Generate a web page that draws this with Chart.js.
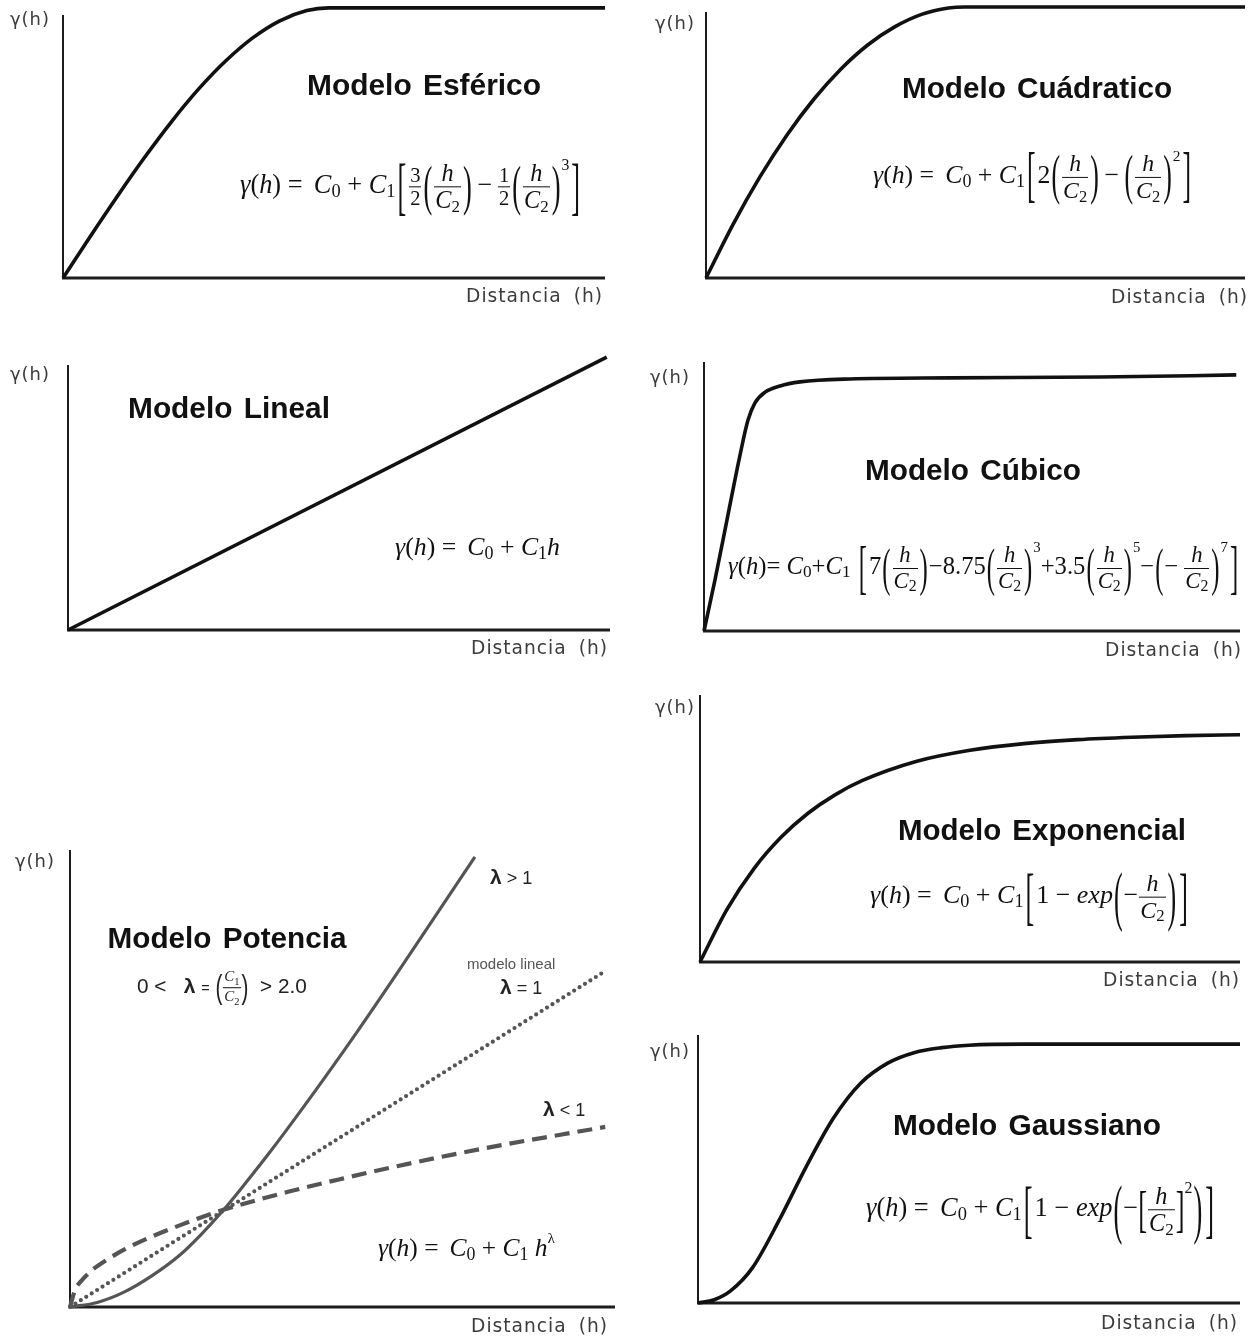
<!DOCTYPE html>
<html lang="es">
<head>
<meta charset="utf-8">
<title>Modelos de semivariograma</title>
<script src="https://cdn.jsdelivr.net/npm/chart.js@4.4.1/dist/chart.umd.min.js"></script>
<style>
  html,body{margin:0;padding:0;background:#fff}
  body{width:1258px;height:1337px;position:relative;overflow:hidden}
  canvas{position:absolute}
  .abs{position:absolute;white-space:nowrap;line-height:1}
  .ttl{font-family:"Liberation Sans",Arial,sans-serif;font-weight:bold;font-size:29px;color:#111;transform:translate(-50%,-50%);word-spacing:3px}
  .yl,.xl{font-family:"DejaVu Sans",Verdana,sans-serif;font-size:18px;color:#3c3c3c;letter-spacing:1px;transform:translateY(-50%)}
  .xl{word-spacing:5px}
  .fm{font-family:"Liberation Serif","DejaVu Serif",serif;font-size:26px;color:#111;transform:translateY(-50%);display:inline-block;line-height:1.2}
  .fm sub{font-size:.7em;vertical-align:-.22em;line-height:0}
  .fm sup{font-size:.6em;vertical-align:1.45em;line-height:0}
  .fm sup.lo{vertical-align:.85em}
  .fr{display:inline-block;vertical-align:middle;text-align:center;font-size:.92em;margin:0 1px}
  .fr>span{display:block;line-height:1.08;padding:0 1px}
  .fr>span:first-child{border-bottom:1.5px solid #111}
  .fr.sm{font-size:.78em}
  .bp{display:inline-block;transform:scaleY(2.1);vertical-align:middle;margin:0 1px}
  .bp.big{transform:scaleY(2.5)}
  .bk{display:inline-block;transform:scaleY(2.4);vertical-align:middle;margin:0 2px}
  .sbk{display:inline-block;transform:scaleY(1.9);vertical-align:middle}
  .th{display:inline-block;width:.18em}
  .lab{font-family:"Liberation Sans",Arial,sans-serif;font-size:18px;color:#222;transform:translateY(-50%)}
  .lab b{font-size:21px}
  .small{font-family:"Liberation Sans",Arial,sans-serif;font-size:15px;color:#555;transform:translateY(-50%)}
  .fr.tiny{font-family:"Liberation Serif",serif;font-size:.72em}
  .fr.tiny>span:first-child{border-bottom-width:1px}
  .bp2{display:inline-block;transform:scaleY(1.6);vertical-align:middle;font-weight:normal}
</style>
</head>
<body>
<script>
// ---- curve data: h (distancia, % of axis length) and γ(h) (% of axis height) ----
const H_ESF = [0, 5, 10, 15, 20, 25, 30, 35, 40, 45, 49, 60, 70, 80, 90, 100];
const G_ESF = [0, 15.7, 31.0, 45.7, 59.4, 71.8, 82.5, 91.3, 97.8, 101.7, 102.7, 102.7, 102.7, 102.7, 102.7, 102.7];

const H_CUA = [0, 5, 10, 15, 20, 25, 30, 35, 40, 45, 48, 60, 70, 80, 90, 100];
const G_CUA = [0, 20.1, 38.0, 53.7, 67.2, 78.5, 87.6, 94.4, 99.1, 101.5, 101.9, 101.9, 101.9, 101.9, 101.9, 101.9];

const H_LIN = [0, 99.4];
const G_LIN = [0, 103];

const H_CUB = [0, 2.05, 4.29, 6.72, 8.21, 9.51, 11.4, 14.2, 17.9, 27.2, 45.9, 73.9, 99.3];
const G_CUB = [0, 19.0, 41.3, 65.4, 78.4, 84.8, 88.8, 91.1, 92.6, 93.7, 94.1, 94.4, 95.2];

const H_POT_GT = [0, 5, 10, 15, 20, 24, 28, 32, 37, 45, 51.4, 60, 67, 74.3];
const G_POT_GT = [0, 1.0, 3.3, 6.8, 11.2, 15.8, 21, 26.8, 34.4, 47.3, 58, 73, 85.5, 98.5];
const H_POT_EQ = [0, 98.2];
const G_POT_EQ = [0, 73.5];
const H_POT_LT = [0, 1, 2, 4, 7, 10, 15, 20, 28, 40, 50, 60, 70, 80, 90, 98.2];
const G_POT_LT = [0, 4.0, 5.6, 8.0, 10.5, 12.6, 15.4, 17.8, 21.2, 25.2, 28.1, 30.8, 33.3, 35.6, 37.7, 39.4];

const H_EXP = [0, 5, 10, 15, 20, 25, 30, 40, 50, 60, 70, 80, 90, 100];
const G_EXP = [0, 19.7, 35.0, 46.7, 55.7, 62.6, 67.9, 75.1, 79.3, 81.8, 83.3, 84.2, 84.8, 85.1];

const H_GAU = [0, 3, 6, 10, 15, 20, 25, 30, 35, 40, 45, 50, 60, 80, 100];
const G_GAU = [0, 1.2, 4.5, 13, 31, 51, 69, 82, 89.5, 93.5, 95.3, 96.2, 96.6, 96.6, 96.6];

// ---- axes: vertical γ(h) axis and horizontal distance axis along the plot area ----
const axesPlugin = {
  id: 'ejes',
  beforeDatasetsDraw(chart) {
    const { ctx, chartArea: { left, top, right, bottom } } = chart;
    ctx.save();
    ctx.strokeStyle = '#1c1c1c';
    ctx.lineCap = 'butt';
    ctx.lineWidth = 2;
    ctx.beginPath(); ctx.moveTo(left, top); ctx.lineTo(left, bottom + 1); ctx.stroke();
    ctx.lineWidth = 3;
    ctx.beginPath(); ctx.moveTo(left - 1, bottom); ctx.lineTo(right, bottom); ctx.stroke();
    ctx.restore();
  }
};

const BLACK = '#111';
const GREY = '#555';

const panels = [
  { x0: 63,  y0: 278,  x1: 605,  yTop: 15,   sets: [{ h: H_ESF, g: G_ESF, color: BLACK, width: 3.6 }] },
  { x0: 706, y0: 278,  x1: 1245, yTop: 12,   sets: [{ h: H_CUA, g: G_CUA, color: BLACK, width: 3.6 }] },
  { x0: 68,  y0: 630,  x1: 610,  yTop: 365,  sets: [{ h: H_LIN, g: G_LIN, color: BLACK, width: 3.6 }] },
  { x0: 704, y0: 631,  x1: 1240, yTop: 362,  sets: [{ h: H_CUB, g: G_CUB, color: BLACK, width: 3.6 }] },
  { x0: 70,  y0: 1307, x1: 615,  yTop: 850,  sets: [
      { h: H_POT_GT, g: G_POT_GT, color: GREY, width: 3.2 },
      { h: H_POT_EQ, g: G_POT_EQ, color: GREY, width: 4.2, dash: [0, 6.4], cap: 'round' },
      { h: H_POT_LT, g: G_POT_LT, color: GREY, width: 4.2, dash: [15, 8] }
  ] },
  { x0: 700, y0: 962,  x1: 1240, yTop: 695,  sets: [{ h: H_EXP, g: G_EXP, color: BLACK, width: 3.6 }] },
  { x0: 698, y0: 1303, x1: 1240, yTop: 1035, sets: [{ h: H_GAU, g: G_GAU, color: BLACK, width: 3.6 }] }
];

function drawPanel(p) {
  const PAD = 24;
  const c = document.createElement('canvas');
  const w = p.x1 - p.x0 + 2 * PAD, h = p.y0 - p.yTop + 2 * PAD;
  c.width = w; c.height = h;
  c.style.left = (p.x0 - PAD) + 'px';
  c.style.top = (p.yTop - PAD) + 'px';
  c.style.width = w + 'px';
  c.style.height = h + 'px';
  document.body.appendChild(c);
  new Chart(c, {
    type: 'scatter',
    data: {
      datasets: p.sets.map(s => ({
        data: s.h.map((x, i) => ({ x, y: s.g[i] })),
        showLine: true,
        borderColor: s.color,
        borderWidth: s.width,
        borderDash: s.dash || [],
        borderCapStyle: s.cap || 'butt',
        borderJoinStyle: 'round',
        pointRadius: 0,
        pointHoverRadius: 0,
        cubicInterpolationMode: 'monotone',
        clip: false,
        fill: false
      }))
    },
    options: {
      responsive: false,
      animation: false,
      devicePixelRatio: 1,
      layout: { padding: PAD },
      events: [],
      plugins: { legend: { display: false }, tooltip: { enabled: false } },
      scales: {
        x: { type: 'linear', min: 0, max: 100, display: false },
        y: { type: 'linear', min: 0, max: 100, display: false }
      }
    },
    plugins: [axesPlugin]
  });
}
panels.forEach(drawPanel);

// ---- text: titles, axis names, formulas ----
const C = n => `<i>C</i><sub>${n}</sub>`;
const HC = `<span class="fr"><span><i>h</i></span><span>${C(2)}</span></span>`;
const PAR = (inner, sup, cls) => `<span class="bp ${cls || ''}">(</span>${inner}<span class="bp ${cls || ''}">)</span>${sup ? `<sup>${sup}</sup>` : ''}`;
const FR = (n, d) => `<span class="fr sm"><span>${n}</span><span>${d}</span></span>`;
const LB = `<span class="bk">[</span>`, RB = `<span class="bk">]</span>`;
const GH = `<i>γ</i>(<i>h</i>)`;
const TH = '<span class="th"></span>';
const MINUS = `${TH}−${TH}`;

const FORMULAS = [
  { x: 240, y: 187, w: 342, html: `${GH} = ${TH}${C(0)} + ${C(1)}${LB}${FR(3, 2)}${PAR(HC)}${MINUS}${FR(1, 2)}${PAR(HC, 3)}${RB}` },
  { x: 873, y: 177, w: 320, html: `${GH} = ${TH}${C(0)} + ${C(1)}${LB}2${PAR(HC)}${MINUS}${PAR(HC, 2)}${RB}` },
  { x: 395, y: 547, w: 165, html: `${GH} = ${TH}${C(0)} + ${C(1)}<i>h</i>` },
  { x: 728, y: 568, w: 512, html: `${GH}= ${C(0)}+${C(1)} ${LB}7${PAR(HC)}−8.75${PAR(HC, 3)}+3.5${PAR(HC, 5)}−${PAR('−&thinsp;' + HC, 7)}${RB}` },
  { x: 378, y: 1248, w: 177, html: `${GH} = ${TH}${C(0)} + ${C(1)} <i>h</i><sup class="lo">λ</sup>` },
  { x: 870, y: 897, w: 320, html: `${GH} = ${TH}${C(0)} + ${C(1)}${LB}1 − <i>exp</i>${PAR('−' + HC, '', 'big')}${RB}` },
  { x: 866, y: 1210, w: 350, html: `${GH} = ${TH}${C(0)} + ${C(1)}${LB}1 − <i>exp</i>${PAR('−<span class="sbk">[</span>' + HC + '<span class="sbk">]</span><sup>2</sup>', '', 'big')}${RB}` }
];

const TITLES = [
  { x: 424, y: 85, w: 234, t: 'Modelo Esférico' },
  { x: 1037, y: 88, w: 270, t: 'Modelo Cuádratico' },
  { x: 229, y: 408, w: 202, t: 'Modelo Lineal' },
  { x: 973, y: 470, w: 216, t: 'Modelo Cúbico' },
  { x: 227, y: 938, w: 239, t: 'Modelo Potencia' },
  { x: 1042, y: 830, w: 288, t: 'Modelo Exponencial' },
  { x: 1027, y: 1125, w: 268, t: 'Modelo Gaussiano' }
];

const Y_NAMES = [[10, 19], [655, 23], [10, 374], [650, 377], [15, 861], [655, 707], [650, 1051]];
const X_NAMES = [[603, 296], [1248, 297], [608, 648], [1242, 650], [608, 1326], [1240, 980], [1238, 1323]];

function addText(cls, html, left, top, right) {
  const d = document.createElement('div');
  d.className = 'abs ' + cls;
  d.innerHTML = html;
  if (right !== undefined) d.style.right = (1258 - right) + 'px'; else d.style.left = left + 'px';
  d.style.top = top + 'px';
  document.body.appendChild(d);
  return d;
}
function fitWidth(el, w) {
  for (let k = 0; k < 2; k++) {
    const fs = parseFloat(getComputedStyle(el).fontSize);
    const cur = el.getBoundingClientRect().width;
    el.style.fontSize = (fs * w / cur) + 'px';
  }
}

Y_NAMES.forEach(([x, y]) => { const el = addText('yl', 'γ(h)', x, y); fitWidth(el, 40); });
X_NAMES.forEach(([x, y]) => { const el = addText('xl', 'Distancia (h)', undefined, y, x); fitWidth(el, 137); });
TITLES.forEach(t => { const el = addText('ttl', t.t, t.x, t.y); fitWidth(el, t.w); });
FORMULAS.forEach(f => { const el = addText('fm', f.html, f.x, f.y); fitWidth(el, f.w); });

// labels of the power model curves
addText('lab', '<b>λ</b> &gt; 1', 490, 876);
addText('small', 'modelo lineal', 467, 963);
addText('lab', '<b>λ</b> = 1', 500, 986);
addText('lab', '<b>λ</b> &lt; 1', 543, 1108);
const cond = addText('lab', '0 &lt; &nbsp;&nbsp;<b>λ</b> <span style="font-size:.7em">=</span> <span class="bp2">(</span><span class="fr tiny"><span><i>C</i><sub style="font-size:.7em">1</sub></span><span><i>C</i><sub style="font-size:.7em">2</sub></span></span><span class="bp2">)</span> &nbsp;&gt; 2.0', 137, 988);
fitWidth(cond, 170);
</script>
</body>
</html>
